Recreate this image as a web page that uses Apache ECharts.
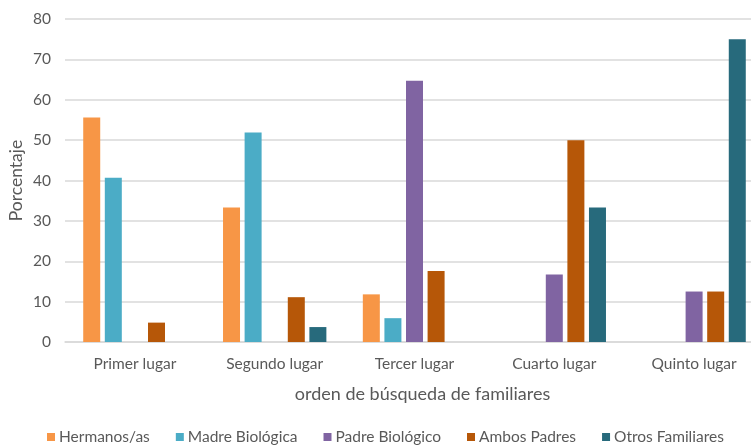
<!DOCTYPE html>
<html><head><meta charset="utf-8">
<script src="https://cdn.jsdelivr.net/npm/echarts@6/dist/echarts.min.js"></script>
<style>html,body{margin:0;padding:0;background:#fff}#c{width:751px;height:447px}</style>
</head><body><div id="c"></div>
<script>
const categories = ['Primer lugar','Segundo lugar','Tercer lugar','Cuarto lugar','Quinto lugar'];
const hermanos = [55.6, 33.3, 11.8, 0, 0];
const madre = [40.7, 51.9, 5.9, 0, 0];
const padre = [0, 0, 64.7, 16.7, 12.5];
const ambos = [4.8, 11.1, 17.6, 50, 12.5];
const otros = [0, 3.7, 0, 33.3, 75];
const yTicks = [0,10,20,30,40,50,60,70,80];

const names = ['Hermanos/as','Madre Biológica','Padre Biológico','Ambos Padres','Otros Familiares'];
const colors = ['#F79646','#4BACC6','#8064A2','#B65708','#276A7C'];
const datas = [hermanos, madre, padre, ambos, otros];
const font = 'Lato, "Open Sans", sans-serif';
const chart = echarts.init(document.getElementById('c'));
chart.setOption({
  animation:false,
  textStyle:{fontFamily:font},
  grid:{left:65, width:699, top:19, bottom:105, containLabel:false, outerBoundsMode:'none'},
  legend:{
    data:names, top:424, left:42, itemWidth:8, itemHeight:8, itemGap:26,
    icon:'rect', textStyle:{fontSize:15.5, color:'#595959', fontFamily:font, padding:[0,0,0,-1]}
  },
  xAxis:{
    type:'category', data:categories,
    name:'orden de búsqueda de familiares', nameLocation:'middle', nameGap:43,
    nameTextStyle:{fontSize:18, color:'#595959', fontFamily:font, padding:[0,0,0,16]},
    axisLine:{lineStyle:{color:'#D9D9D9', width:1.5}}, axisTick:{show:false},
    axisLabel:{fontSize:15.5, color:'#595959', margin:14, fontFamily:font}
  },
  yAxis:{
    type:'value', min:yTicks[0], max:yTicks[yTicks.length-1], interval:10,
    name:'Porcentaje', nameLocation:'middle', nameGap:40, nameRotate:90, nameMoveOverlap:false,
    nameTextStyle:{fontSize:17.5, color:'#595959', fontFamily:font},
    axisLine:{show:false}, axisTick:{show:false},
    axisLabel:{fontSize:15.5, color:'#595959', margin:14, fontFamily:font},
    splitLine:{lineStyle:{color:'#D9D9D9', width:1.5}}
  },
  series: datas.map((d,i)=>({
    name:names[i], type:'bar', data:d, barWidth:17, barGap:'27%',
    itemStyle:{color:colors[i]}
  }))
});
</script></body></html>
